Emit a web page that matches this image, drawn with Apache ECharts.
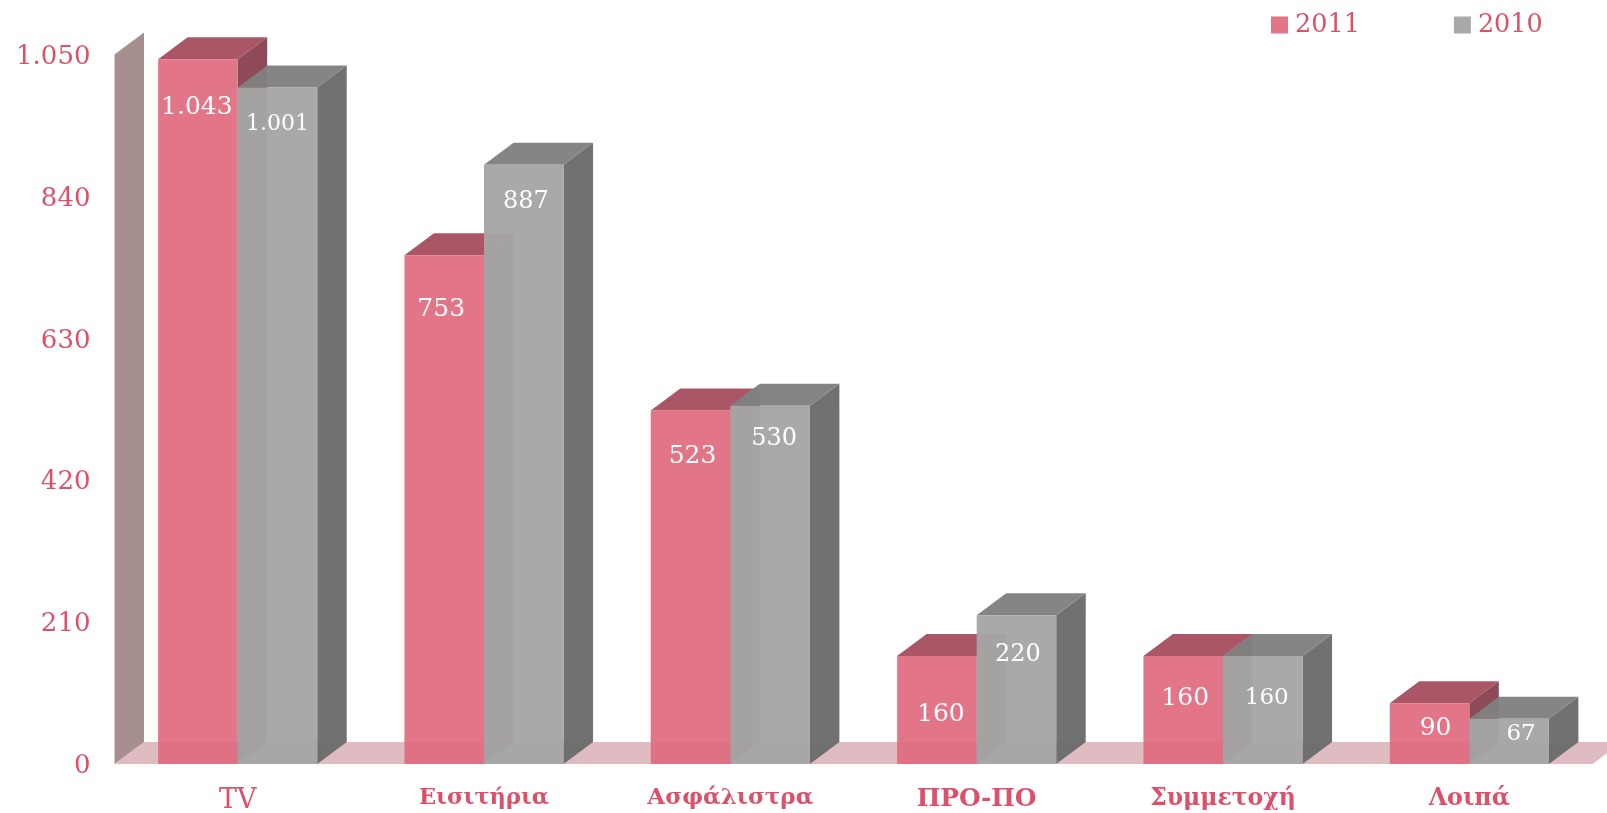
<!DOCTYPE html>
<html>
<head>
<meta charset="utf-8">
<script src="https://cdn.jsdelivr.net/npm/echarts@6/dist/echarts.min.js"></script>
<style>html,body{margin:0;padding:0;background:#fff}#c{width:1607px;height:813px}</style>
</head>
<body>
<div id="c"></div>
<script>
const categories = ['TV', 'Εισιτήρια', 'Ασφάλιστρα', 'ΠΡΟ-ΠΟ', 'Συμμετοχή', 'Λοιπά'];
const values2011 = [1043, 753, 523, 160, 160, 90];
const values2010 = [1001, 887, 530, 220, 160, 67];
const yTicks = {min: 0, max: 1050, interval: 210};

// label placement, px from the top centre of each bar's front face
const labelOffsets2011 = [[-1, 48.5], [-3, 54.5], [2, 45.5], [4, 58.5], [2, 42.5], [6, 25.5]];
const labelOffsets2010 = [[0, 36.5], [2, 37.5], [4, 33], [1.5, 39.5], [4, 42.5], [12, 15.5]];
const labelFontSizes2011 = [25, 25, 25, 25, 25, 25];
const labelFontSizes2010 = [22, 24, 24, 24, 23, 23];
const categoryFontSizes = [27, 22.5, 23, 25, 23.5, 23.7];

const FONT = '"DejaVu Serif", "Liberation Serif", serif';
const TEXT = '#DC5069';
const DX = 29.5, DY = 22;
const BAR_RATIO = 0.323;

const dot = v => String(v).replace(/\B(?=(\d{3})+$)/g, '.');
const poly = (points, fill) => ({type: 'polygon', shape: {points}, style: {fill}});

function barRenderer(side, faces, offsets, fontSizes) {
  return function (params, api) {
    const i = api.value(0), v = api.value(1);
    const c = api.coord([i, v]), base = api.coord([i, 0]);
    const w = api.size([1, 0])[0] * BAR_RATIO;
    const x0 = side < 0 ? c[0] - w : c[0];
    const x1 = x0 + w, yT = c[1], yB = base[1];
    const off = offsets[params.dataIndex];
    return {
      type: 'group',
      children: [
        poly([[x1, yT], [x1 + DX, yT - DY], [x1 + DX, yB - DY], [x1, yB]], faces.side),
        poly([[x0, yT], [x0 + DX, yT - DY], [x1 + DX, yT - DY], [x1, yT]], faces.top),
        poly([[x0, yT], [x1, yT], [x1, yB], [x0, yB]], faces.front),
        {type: 'text', z2: 50, style: {
          text: dot(v), x: (x0 + x1) / 2 + off[0], y: yT + off[1],
          fill: '#fff', fontFamily: FONT, fontSize: fontSizes[params.dataIndex],
          align: 'center', verticalAlign: 'middle'
        }}
      ]
    };
  };
}

function frameRenderer(params, api) {
  const g = params.coordSys;
  const b = g.y + g.height, r = g.x + g.width;
  return {
    type: 'group',
    children: [
      poly([[g.x, b], [g.x + DX, b - DY], [r + DX, b - DY], [r, b]], '#DFBBC2'),
      poly([[g.x, b], [g.x + DX, b - DY], [g.x + DX, g.y - DY], [g.x, g.y]], '#A78F8F')
    ]
  };
}

const chart = echarts.init(document.getElementById('c'), null, {renderer: 'canvas'});
chart.setOption({
  animation: false,
  backgroundColor: '#fff',
  textStyle: {fontFamily: FONT},
  legend: {
    left: 1271, top: 12, padding: 0, itemWidth: 17, itemHeight: 17, itemGap: 94, icon: 'rect',
    data: ['2011', '2010'],
    textStyle: {color: TEXT, fontSize: 25.5, fontFamily: FONT, padding: [0, 0, 0, 2]}
  },
  grid: {left: 114.5, right: 14.5, top: 54.5, bottom: 49, outerBoundsMode: 'none'},
  xAxis: {
    type: 'category',
    data: categories.map((c, i) => ({
      value: c,
      textStyle: {fontWeight: i === 0 ? 'normal' : 'bold', fontSize: categoryFontSizes[i]}
    })),
    axisLine: {show: false}, axisTick: {show: false},
    axisLabel: {color: TEXT, fontSize: 24, fontFamily: FONT, margin: 23, interval: 0}
  },
  yAxis: {
    type: 'value', min: yTicks.min, max: yTicks.max, interval: yTicks.interval,
    axisLine: {show: false}, axisTick: {show: false}, splitLine: {show: false},
    axisLabel: {
      margin: 24,
      formatter: v => '{t|' + dot(v) + '}',
      rich: {t: {color: TEXT, fontSize: 26, fontFamily: FONT, padding: [5, 0, 0, 0]}}
    }
  },
  series: [
    {name: 'frame', type: 'custom', silent: true, renderItem: frameRenderer, data: [[0, 0]],
     encode: {x: 0, y: 1}, z: 1},
    {name: '2011', type: 'custom', z: 2, itemStyle: {color: '#E27587'},
     encode: {x: 0, y: 1},
     data: values2011.map((v, i) => [i, v]),
     renderItem: barRenderer(-1, {front: 'rgba(224,107,126,.93)', top: 'rgba(165,73,90,.93)', side: 'rgba(135,60,75,.93)'}, labelOffsets2011, labelFontSizes2011)},
    {name: '2010', type: 'custom', z: 3, itemStyle: {color: '#A9A9A9'},
     encode: {x: 0, y: 1},
     data: values2010.map((v, i) => [i, v]),
     renderItem: barRenderer(1, {front: 'rgba(165,165,165,.96)', top: 'rgba(128,128,128,.96)', side: 'rgba(107,107,107,.96)'}, labelOffsets2010, labelFontSizes2010)}
  ]
});
</script>
</body>
</html>
